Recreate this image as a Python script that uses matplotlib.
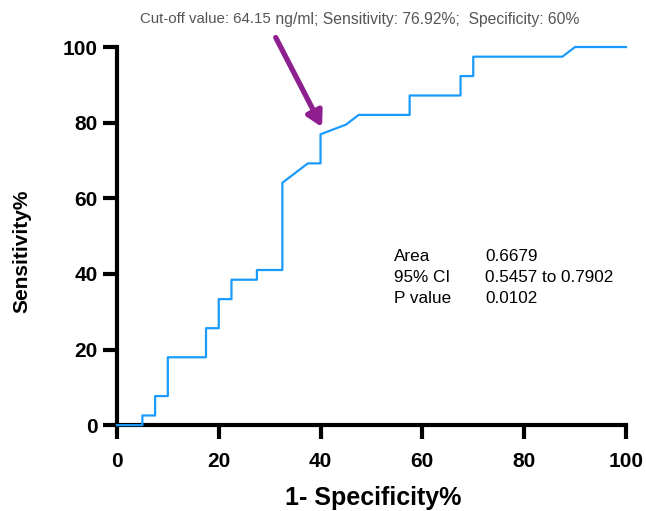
import matplotlib.pyplot as plt

plt.rcParams['font.family'] = ['Liberation Sans', 'DejaVu Sans']

# ROC curve points (1-specificity %, sensitivity %)
fpr = [0, 5, 5, 7.5, 7.5, 10, 10, 17.5, 17.5, 20, 20, 22.5, 22.5, 27.5, 27.5,
       32.5, 32.5, 37.5, 40, 40, 45, 47.5, 57.5, 57.5, 67.5, 67.5, 70, 70,
       87.5, 90, 100]
tpr = [0, 0, 2.56, 2.56, 7.69, 7.69, 17.95, 17.95, 25.64, 25.64, 33.33, 33.33,
       38.46, 38.46, 41.03, 41.03, 64.10, 69.23, 69.23, 76.92, 79.49, 82.05,
       82.05, 87.18, 87.18, 92.31, 92.31, 97.44, 97.44, 100, 100]

stat_names = ["Area", "95% CI", "P value"]
stat_values = ["0.6679", "0.5457 to 0.7902", "0.0102"]

title_a = "Cut-off value: 64.15"
title_b = " ng/ml; Sensitivity: 76.92%;  Specificity: 60%"

fig = plt.figure(figsize=(6.46, 5.11), dpi=100)
ax = fig.add_axes([0.181, 0.168, 0.788, 0.74])

ax.plot(fpr, tpr, color="#1a9bfc", linewidth=1.6, clip_on=False, zorder=3)

ax.set_xlim(0, 100)
ax.set_ylim(0, 100)
ax.set_xticks(range(0, 101, 20))
ax.set_yticks(range(0, 101, 20))
for s in ["top", "right"]:
    ax.spines[s].set_visible(False)
for s in ["left", "bottom"]:
    ax.spines[s].set_linewidth(3)
ax.tick_params(width=3, length=10, labelsize=15)
ax.tick_params(axis="x", pad=9)
ax.tick_params(axis="y", pad=4)
for lab in ax.get_xticklabels() + ax.get_yticklabels():
    lab.set_fontweight("bold")

ax.set_xlabel("1- Specificity%", fontsize=18, fontweight="bold")
ax.set_ylabel("Sensitivity%", fontsize=15, fontweight="bold")
ax.xaxis.label.set_va("baseline")
ax.xaxis.set_label_coords(0.503, -0.211)
ax.yaxis.set_label_coords(-0.167, 0.46)

for i, (n, v) in enumerate(zip(stat_names, stat_values)):
    y = 43.3 - i * 5.45
    ax.text(54.4, y, n, fontsize=12.3, va="baseline", ha="left")
    ax.text(72.3, y, v, fontsize=12.3, va="baseline", ha="left")

ax.annotate("", xy=(40.3, 78.8), xytext=(31.2, 102.5),
            arrowprops=dict(arrowstyle="-|>,head_length=0.9,head_width=0.5",
                            color="#8e1f8e", lw=3.8, shrinkA=0, shrinkB=0),
            annotation_clip=False)

# note above the plot: first part a little smaller than the rest
t1 = fig.text(140 / 646, 1 - 19 / 511, title_a, fontsize=10.8, color="#555555",
              ha="left", va="center")
fig.canvas.draw()
bb = t1.get_window_extent()
fig.text(bb.x1 / 646, 1 - 19 / 511, title_b, fontsize=11.3, color="#555555",
         ha="left", va="center")

fig.savefig("out.png", dpi=100)
